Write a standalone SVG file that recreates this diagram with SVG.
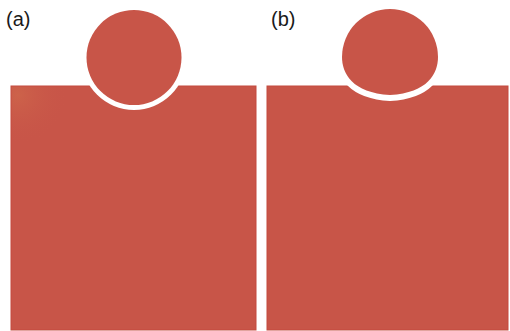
<svg xmlns="http://www.w3.org/2000/svg" width="510" height="331" viewBox="0 0 510 331">
  <defs>
    <style>
      .body { fill: #C85548; }
      .gap { fill: #FFFFFF; }
      .edge { stroke: #C44B3F; stroke-width: 1; }
      .label { font-family: "Liberation Sans", Arial, sans-serif; font-size: 20px; fill: #1a1a1a; }
    </style>
    <radialGradient id="glow" cx="18" cy="95" r="50" gradientUnits="userSpaceOnUse">
      <stop offset="0" stop-color="#D2704C" stop-opacity="0.5"/>
      <stop offset="1" stop-color="#C85548" stop-opacity="0"/>
    </radialGradient>
  </defs>
  <rect width="510" height="331" fill="#FFFFFF"/>

  <g id="panel-a">
    <rect class="body edge" x="11" y="86" width="245" height="244"/>
    <rect x="11.5" y="86.5" width="100" height="90" fill="url(#glow)"/>
    <circle class="gap" cx="134" cy="57.5" r="52.5"/>
    <circle class="body" cx="134" cy="57.5" r="47.5"/>
    <text class="label" x="6" y="26">(a)</text>
  </g>

  <g id="panel-b">
    <rect class="body edge" x="267" y="86" width="241" height="244"/>
    <path d="M342,57 A48,48 0 0 1 438,57 C438,73 428,93 390,95 C352,93 342,73 342,57 Z" fill="#FFFFFF" stroke="#FFFFFF" stroke-width="12" stroke-linejoin="round"/>
    <path class="body" d="M342,57 A48,48 0 0 1 438,57 C438,73 428,93 390,95 C352,93 342,73 342,57 Z"/>
    <text class="label" x="271" y="26">(b)</text>
  </g>

  <g id="connectors"/>
</svg>
